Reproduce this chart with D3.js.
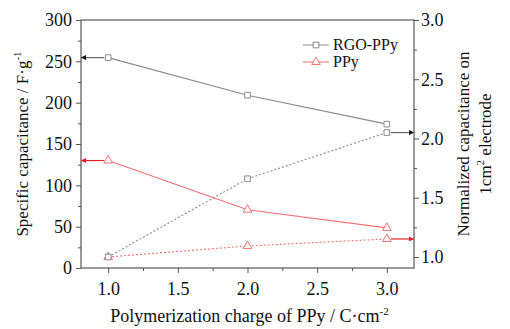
<!DOCTYPE html>
<html>
<head>
<meta charset="utf-8">
<script src="https://cdn.jsdelivr.net/npm/d3@7"></script>
<style>
body { margin: 0; background: #fff; }
</style>
</head>
<body>
<svg width="510" height="329" font-family="Liberation Serif, DejaVu Serif, serif"></svg>
<script>
const svg = d3.select('svg')
const serif = 'Liberation Serif, DejaVu Serif, serif'

// data
const charge = [1.0, 2.0, 3.0]
const rgoSpecific = [254.5, 209, 174]
const ppySpecific = [130, 70.5, 48.5]
const rgoNormalized = [1.0, 1.66, 2.05]
const ppyNormalized = [1.0, 1.093, 1.152]
const xTicks = [1.0, 1.5, 2.0, 2.5, 3.0]
const xMinorTicks = [1.25, 1.75, 2.25, 2.75]
const leftTicks = [0, 50, 100, 150, 200, 250, 300]
const rightTicks = [1.0, 1.5, 2.0, 2.5, 3.0]
const seriesNames = ['RGO-PPy', 'PPy']

const margin = { left: 81, right: 96, top: 20, bottom: 61 }
const innerWidth = 510 - margin.left - margin.right
const innerHeight = 329 - margin.top - margin.bottom

const grey = '#8a8a8a'
const red = '#f07070'
const axisColor = '#555'

const g = svg.append('g')
    .attr('transform', `translate(${margin.left},${margin.top})`)

const xScale = d3.scaleLinear().domain([0.805, 3.195]).range([0, innerWidth])
const yLeft = d3.scaleLinear().domain([0, 300]).range([innerHeight, 0])
const yRight = d3.scaleLinear().domain([0.907, 3.0]).range([innerHeight, 0])

// frame
g.append('rect')
    .attr('width', innerWidth).attr('height', innerHeight)
    .attr('fill', 'none').attr('stroke', axisColor).attr('stroke-width', 1.2)

const styleAxis = sel => {
    sel.attr('font-family', serif).attr('font-size', 18)
    sel.select('.domain').remove()
    sel.selectAll('.tick line').attr('stroke', axisColor)
    sel.selectAll('.tick text').attr('fill', '#111')
}

const minor = ticks => d3.range(ticks.length - 1).map(i => (ticks[i] + ticks[i + 1]) / 2)

g.append('g').attr('transform', `translate(0,${innerHeight})`)
    .call(d3.axisBottom(xScale).tickValues(xTicks).tickFormat(d3.format('.1f')).tickSize(5).tickPadding(9))
    .call(styleAxis)
g.append('g').attr('transform', `translate(0,${innerHeight})`)
    .call(d3.axisBottom(xScale).tickValues(xMinorTicks).tickFormat('').tickSize(3))
    .call(styleAxis)

g.append('g')
    .call(d3.axisLeft(yLeft).tickValues(leftTicks).tickSize(5).tickPadding(4))
    .call(styleAxis)
g.append('g')
    .call(d3.axisLeft(yLeft).tickValues(minor(leftTicks)).tickFormat('').tickSize(3))
    .call(styleAxis)

g.append('g').attr('transform', `translate(${innerWidth},0)`)
    .call(d3.axisRight(yRight).tickValues(rightTicks).tickFormat(d3.format('.1f')).tickSize(5).tickPadding(2))
    .call(styleAxis)
g.append('g').attr('transform', `translate(${innerWidth},0)`)
    .call(d3.axisRight(yRight).tickValues(minor(rightTicks)).tickFormat('').tickSize(3))
    .call(styleAxis)

// arrow markers
const defs = svg.append('defs')
const arrowHead = (id, color) => defs.append('marker')
    .attr('id', id).attr('viewBox', '0 0 10 10')
    .attr('refX', 10).attr('refY', 5)
    .attr('markerWidth', 6).attr('markerHeight', 5)
    .attr('markerUnits', 'userSpaceOnUse')
    .attr('orient', 'auto')
    .append('path').attr('d', 'M0,0L10,5L0,10Z').attr('fill', color)
arrowHead('arrBlack', '#111')
arrowHead('arrRed', '#e8202a')

const line = (xs, ys, yScale) => d3.line()
    .x((d, i) => xScale(xs[i]))
    .y(d => yScale(d))(ys)

// PPy normalized first so the square sits on top at (1.0, 1.0)
const series = [
    { values: ppyNormalized, scale: yRight, color: red, dash: '2,2', shape: 'triangle' },
    { values: rgoNormalized, scale: yRight, color: grey, dash: '2,2', shape: 'square' },
    { values: rgoSpecific, scale: yLeft, color: grey, dash: null, shape: 'square' },
    { values: ppySpecific, scale: yLeft, color: red, dash: null, shape: 'triangle' }
]

// arrows pointing at the axis each curve belongs to
const arrows = [
    { x0: charge[0], v: rgoSpecific[0], scale: yLeft, x1: 0, color: '#666', head: 'arrBlack' },
    { x0: charge[0], v: ppySpecific[0], scale: yLeft, x1: 0, color: '#e8202a', head: 'arrRed' },
    { x0: charge[2], v: rgoNormalized[2], scale: yRight, x1: innerWidth, color: '#666', head: 'arrBlack' },
    { x0: charge[2], v: ppyNormalized[2], scale: yRight, x1: innerWidth, color: '#e8202a', head: 'arrRed' }
]
arrows.forEach(a => {
    const x0 = xScale(a.x0) + (a.x1 > 0 ? 4 : -4)
    g.append('line')
        .attr('x1', x0).attr('x2', a.x1)
        .attr('y1', a.scale(a.v)).attr('y2', a.scale(a.v))
        .attr('stroke', a.color).attr('stroke-width', 1.2)
        .attr('marker-end', `url(#${a.head})`)
})

const symbolPath = shape => shape === 'square'
    ? d3.symbol(d3.symbolSquare, 32)()
    : d3.symbol(d3.symbolTriangle, 32)()

series.forEach(s => {
    g.append('path')
        .attr('d', line(charge, s.values, s.scale))
        .attr('fill', 'none')
        .attr('stroke', s.color)
        .attr('stroke-width', 1.1)
        .attr('stroke-dasharray', s.dash)
    g.selectAll(null)
        .data(s.values)
        .enter()
        .append('path')
        .attr('d', symbolPath(s.shape))
        .attr('transform', (d, i) => `translate(${xScale(charge[i])},${s.scale(d)})`)
        .attr('fill', '#fff')
        .attr('stroke', s.color)
        .attr('stroke-width', 1)
})

// legend
const legend = g.append('g').attr('transform', 'translate(222,25)')
seriesNames.forEach((name, i) => {
    const row = legend.append('g').attr('transform', `translate(0,${i * 17})`)
    row.append('line').attr('x1', 0).attr('x2', 26)
        .attr('stroke', i === 0 ? grey : red).attr('stroke-width', 1)
    row.append('path')
        .attr('d', symbolPath(i === 0 ? 'square' : 'triangle'))
        .attr('transform', 'translate(13,0)')
        .attr('fill', '#fff').attr('stroke', i === 0 ? grey : red)
    row.append('text').attr('x', 30).attr('y', 5)
        .attr('font-size', 16).attr('fill', '#111')
        .text(name)
})

// axis titles
const leftTitle = svg.append('text')
    .attr('transform', `translate(28,${margin.top + innerHeight / 2}) rotate(-90)`)
    .attr('text-anchor', 'middle')
    .attr('font-size', 17).attr('fill', '#111')
leftTitle.append('tspan').text('Specific capacitance / F·g')
leftTitle.append('tspan').attr('dy', -7).attr('font-size', 11).text('-1')

const rightTitle = svg.append('text')
    .attr('transform', `translate(469,${margin.top + innerHeight / 2}) rotate(-90)`)
    .attr('text-anchor', 'middle')
    .attr('font-size', 17).attr('fill', '#111')
rightTitle.append('tspan').attr('x', 0).text('Normalized capacitance on')
const line2 = rightTitle.append('tspan').attr('x', 0).attr('dy', 22)
line2.append('tspan').text('1cm')
line2.append('tspan').attr('dy', -7).attr('font-size', 11).text('2')
line2.append('tspan').attr('dy', 7).text(' electrode')

const xTitle = svg.append('text')
    .attr('x', margin.left + innerWidth / 2 + 2).attr('y', 322)
    .attr('text-anchor', 'middle')
    .attr('font-size', 18).attr('fill', '#111')
xTitle.append('tspan').text('Polymerization charge of PPy / C·cm')
xTitle.append('tspan').attr('dy', -7).attr('font-size', 11).text('-2')
</script>
</body>
</html>
